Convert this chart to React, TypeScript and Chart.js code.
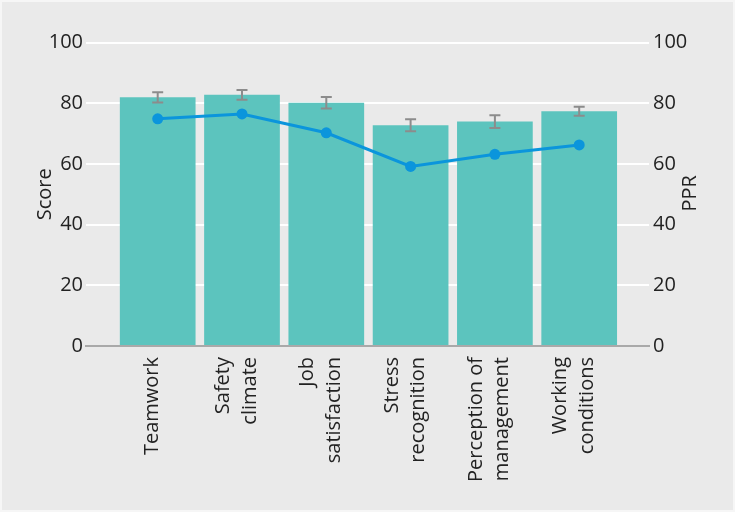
import React, { useEffect, useRef } from "react";
import { Chart, registerables } from "chart.js";

Chart.register(...registerables);

const categories: string[][] = [
  ["Teamwork"],
  ["Safety", "climate"],
  ["Job", "satisfaction"],
  ["Stress", "recognition"],
  ["Perception of", "management"],
  ["Working", "conditions"],
];
const scores = [82.0, 82.8, 80.2, 72.8, 74.0, 77.4];
const scoreErrors = [1.7, 1.6, 1.9, 2.0, 2.1, 1.5];
const ppr = [74.9, 76.5, 70.3, 59.2, 63.2, 66.3];
const yAxisTitle = "Score";
const y2AxisTitle = "PPR";

const FONT = "'Open Sans', 'Noto Sans', sans-serif";
const TEXT = "#222222";
const BAR = "#5cc4be";
const LINE = "#0b95dc";
const ERR = "#8c8c8c";

const extrasPlugin = {
  id: "extras",
  afterDatasetsDraw(chart: any) {
    const ctx = chart.ctx;
    const y = chart.scales.y;
    const meta = chart.getDatasetMeta(0);
    ctx.save();
    ctx.strokeStyle = ERR;
    ctx.lineWidth = 2;
    meta.data.forEach((el: any, i: number) => {
      const cx = el.x;
      const t = y.getPixelForValue(scores[i] + scoreErrors[i]);
      const b = y.getPixelForValue(scores[i] - scoreErrors[i]);
      ctx.beginPath();
      ctx.moveTo(cx, t);
      ctx.lineTo(cx, b);
      ctx.moveTo(cx - 5.5, t);
      ctx.lineTo(cx + 5.5, t);
      ctx.moveTo(cx - 5.5, b);
      ctx.lineTo(cx + 5.5, b);
      ctx.stroke();
    });
    ctx.restore();
  },
  afterDraw(chart: any) {
    const ctx = chart.ctx;
    const x = chart.scales.x;
    const y2 = chart.scales.y2;
    ctx.save();
    ctx.fillStyle = TEXT;
    ctx.font = `20px ${FONT}`;
    ctx.textAlign = "right";
    ctx.textBaseline = "middle";
    const lh = 26.6;
    categories.forEach((lines, i) => {
      const px = x.getPixelForValue(i);
      const n = lines.length;
      lines.forEach((line, j) => {
        const cx = px - 5.5 + (j - (n - 1) / 2) * lh;
        ctx.save();
        ctx.translate(cx, x.top + 11);
        ctx.rotate(-Math.PI / 2);
        ctx.fillText(line, 0, 0);
        ctx.restore();
      });
    });
    ctx.save();
    ctx.textAlign = "center";
    ctx.translate(y2.right - 21, (y2.top + y2.bottom) / 2 - 1);
    ctx.rotate(-Math.PI / 2);
    ctx.fillText(y2AxisTitle, 0, 0);
    ctx.restore();
    ctx.restore();
  },
};

export default function App() {
  const ref = useRef<HTMLCanvasElement>(null);
  useEffect(() => {
    if (!ref.current) return;
    const chart = new Chart(ref.current, {
      type: "bar",
      data: {
        datasets: [
          {
            type: "bar",
            label: yAxisTitle,
            data: scores.map((v, i) => ({ x: i, y: v })),
            backgroundColor: BAR,
            borderWidth: 0,
            categoryPercentage: 1,
            barPercentage: 0.898,
            yAxisID: "y",
            order: 1,
          },
          {
            type: "line",
            label: y2AxisTitle,
            data: ppr.map((v, i) => ({ x: i, y: v })),
            borderColor: LINE,
            backgroundColor: LINE,
            borderWidth: 3,
            pointRadius: 5.5,
            pointBorderWidth: 0,
            pointBackgroundColor: LINE,
            tension: 0,
            yAxisID: "y2",
            order: 0,
          },
        ],
      },
      options: {
        responsive: false,
        animation: false,
        layout: { padding: { left: 22, right: 22, top: 40.7, bottom: 0 } },
        plugins: { legend: { display: false }, tooltip: { enabled: false } },
        scales: {
          x: {
            type: "linear",
            offset: false,
            min: -0.8505,
            max: 5.828,
            afterBuildTicks: (s: any) => {
              s.ticks = categories.map((_, i) => ({ value: i }));
            },
            ticks: { display: false },
            grid: { display: false, drawTicks: false, offset: false },
            border: { display: true, color: "#a9a9a9", width: 2 },
            afterFit: (s: any) => {
              s.height = 164;
            },
          },
          y: {
            position: "left",
            min: 0,
            max: 100,
            ticks: { stepSize: 20, color: TEXT, font: { family: FONT, size: 20 }, padding: 3 },
            grid: {
              color: (c: any) => (c.tick && c.tick.value === 0 ? "rgba(0,0,0,0)" : "#ffffff"),
              lineWidth: 2,
              drawTicks: false,
            },
            border: { display: false },
            title: {
              display: true,
              text: yAxisTitle,
              color: TEXT,
              font: { family: FONT, size: 20 },
              padding: { top: 9, bottom: 0 },
            },
            afterFit: (s: any) => {
              s.width = 62;
            },
          },
          y2: {
            position: "right",
            min: 0,
            max: 100,
            ticks: { stepSize: 20, color: TEXT, font: { family: FONT, size: 20 }, padding: 4 },
            grid: { display: false, drawTicks: false },
            border: { display: false },
            afterFit: (s: any) => {
              s.width = 62;
            },
          },
        },
      },
      plugins: [extrasPlugin],
    } as any);
    return () => chart.destroy();
  }, []);
  return (
    <div
      style={{
        position: "fixed",
        left: 0,
        top: 0,
        width: 735,
        height: 512,
        background: "#f6f6f6",
      }}
    >
      <div style={{ position: "absolute", left: 2, top: 2, width: 731, height: 508, background: "#eaeaea" }}>
        <canvas ref={ref} width={731} height={508} style={{ display: "block" }} />
      </div>
    </div>
  );
}
